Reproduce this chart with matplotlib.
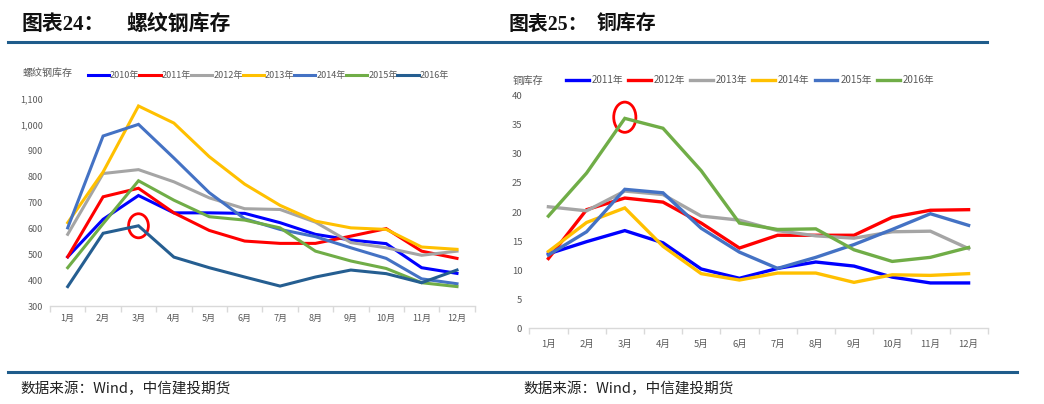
import matplotlib
matplotlib.use('Agg')
import matplotlib.pyplot as plt
from matplotlib.patches import Ellipse
from matplotlib.lines import Line2D
from matplotlib.ticker import FuncFormatter, FixedLocator

plt.rcParams['font.family'] = ['Noto Sans CJK SC', 'DejaVu Sans']

# ---------------- data ----------------
months = ['1月', '2月', '3月', '4月', '5月', '6月', '7月', '8月', '9月', '10月', '11月', '12月']

rebar_years = ['2010年', '2011年', '2012年', '2013年', '2014年', '2015年', '2016年']
rebar_2010 = [490, 635, 727, 660, 660, 658, 622, 577, 555, 541, 448, 426]
rebar_2011 = [490, 722, 755, 660, 592, 551, 542, 542, 570, 599, 512, 484]
rebar_2012 = [577, 812, 827, 780, 718, 676, 673, 624, 545, 525, 496, 512]
rebar_2013 = [622, 818, 1073, 1007, 877, 771, 689, 628, 602, 596, 528, 519]
rebar_2014 = [602, 957, 1002, 872, 738, 637, 596, 568, 525, 484, 405, 386]
rebar_2015 = [448, 618, 784, 709, 645, 632, 602, 512, 474, 445, 390, 375]
rebar_2016 = [375, 581, 610, 489, 448, 412, 377, 412, 439, 425, 390, 439]
rebar_series = [rebar_2010, rebar_2011, rebar_2012, rebar_2013, rebar_2014, rebar_2015, rebar_2016]
rebar_colors = ['#0000FF', '#FF0000', '#A5A5A5', '#FFC000', '#4472C4', '#70AD47', '#255E91']
rebar_yticks = [300, 400, 500, 600, 700, 800, 900, 1000, 1100]

copper_years = ['2011年', '2012年', '2013年', '2014年', '2015年', '2016年']
copper_2011 = [12.8, 14.9, 16.8, 14.7, 10.2, 8.6, 10.3, 11.4, 10.7, 8.8, 7.8, 7.8]
copper_2012 = [12.0, 20.4, 22.4, 21.7, 18.1, 13.8, 16.0, 16.0, 16.0, 19.1, 20.3, 20.4]
copper_2013 = [20.9, 20.2, 23.6, 23.0, 19.3, 18.6, 16.8, 15.9, 15.5, 16.6, 16.7, 13.7]
copper_2014 = [13.2, 18.2, 20.7, 14.1, 9.4, 8.3, 9.5, 9.5, 7.9, 9.2, 9.1, 9.4]
copper_2015 = [12.6, 16.6, 23.9, 23.3, 17.2, 13.1, 10.3, 12.2, 14.4, 17.0, 19.7, 17.7]
copper_2016 = [19.3, 26.7, 36.1, 34.4, 27.1, 18.1, 17.0, 17.1, 13.5, 11.5, 12.2, 13.9]
copper_series = [copper_2011, copper_2012, copper_2013, copper_2014, copper_2015, copper_2016]
copper_colors = ['#0000FF', '#FF0000', '#A5A5A5', '#FFC000', '#4472C4', '#70AD47']
copper_yticks = [0, 5, 10, 15, 20, 25, 30, 35, 40]

# ---------------- layout ----------------
W, H = 1044, 404
fig = plt.figure(figsize=(W / 100, H / 100), dpi=100)
fig.patch.set_facecolor('white')

def fx(px):
    return px / W

def fy(py):
    return 1 - py / H

GRAY = '#595959'
RULE = '#1F5C8B'
title_family = ['Liberation Serif', 'Noto Sans CJK SC']

# Titles
fig.text(fx(21.7), fy(24.5), '图表24：', fontsize=15, fontweight='bold', family=title_family,
         va='center', ha='left', color='#111111')
fig.text(fx(126.7), fy(24.5), '螺纹钢库存', fontsize=15, fontweight='bold', family=title_family,
         va='center', ha='left', color='#111111')
fig.text(fx(508.3), fy(24.5), '图表25：', fontsize=14.3, fontweight='bold', family=title_family,
         va='center', ha='left', color='#111111')
fig.text(fx(596.7), fy(24.5), '铜库存', fontsize=14.3, fontweight='bold', family=title_family,
         va='center', ha='left', color='#111111')

# Rules
fig.add_artist(Line2D([fx(8), fx(987)], [fy(41.7), fy(41.7)], color=RULE, lw=2.2,
                      transform=fig.transFigure))
fig.add_artist(Line2D([fx(8), fx(1017)], [fy(371.7), fy(371.7)], color=RULE, lw=2.2,
                      transform=fig.transFigure))

# Sources
for x0 in (20.7, 523):
    fig.text(fx(x0), fy(388.5), '数据来源：Wind，中信建投期货', fontsize=10.5, style='italic',
             family=['Noto Sans CJK SC', 'DejaVu Sans'], va='center', ha='left', color='#222222')


def style_axes(ax, yticks, ylim, fmt, xpad, tickfs):
    x = list(range(len(months)))
    ax.set_xlim(-0.5, len(months) - 0.5)
    ax.set_ylim(*ylim)
    ax.set_xticks(x)
    ax.set_xticklabels(months, fontsize=tickfs, color=GRAY)
    ax.xaxis.set_minor_locator(FixedLocator([i - 0.5 for i in range(len(months) + 1)]))
    ax.tick_params(axis='x', which='major', length=0, pad=xpad)
    ax.tick_params(axis='x', which='minor', length=4, color='#D9D9D9', width=1)
    ax.set_yticks(yticks)
    ax.yaxis.set_major_formatter(FuncFormatter(fmt))
    ax.tick_params(axis='y', length=0, pad=5, labelsize=tickfs, labelcolor=GRAY)
    for s in ('top', 'right', 'left'):
        ax.spines[s].set_visible(False)
    ax.spines['bottom'].set_color('#D9D9D9')
    ax.spines['bottom'].set_linewidth(1)
    ax.set_facecolor('none')


# ---------------- left chart ----------------
axL = fig.add_axes([fx(50), fy(306), (474.7 - 50) / W, (306 - 99) / H])
xs = list(range(len(months)))
for name, vals, c in zip(rebar_years, rebar_series, rebar_colors):
    axL.plot(xs, vals, color=c, lw=2.2, label=name, solid_joinstyle='miter')
style_axes(axL, rebar_yticks, (300, 1100), lambda v, p: f'{int(v):,}', 5.5, 6.5)
axL.add_patch(Ellipse((2, rebar_2016[2]), width=0.56, height=93, fill=False,
                      edgecolor='#FF0000', lw=2))
fig.text(fx(23), fy(73), '螺纹钢库存', fontsize=7.2, color=GRAY, va='center', ha='left')
axL.legend(loc='center left', bbox_to_anchor=(fx(87.7), fy(75.7)), bbox_transform=fig.transFigure,
           ncol=7, frameon=False, fontsize=6.5, handlelength=2.35, handletextpad=0.12,
           columnspacing=0.0, borderpad=0, borderaxespad=0, labelcolor=GRAY)

# ---------------- right chart ----------------
axR = fig.add_axes([fx(529.3), fy(328.3), (987.7 - 529.3) / W, (328.3 - 95.7) / H])
for name, vals, c in zip(copper_years, copper_series, copper_colors):
    axR.plot(xs, vals, color=c, lw=2.4, label=name, solid_joinstyle='miter')
style_axes(axR, copper_yticks, (0, 40), lambda v, p: f'{int(v)}', 8, 6.8)
axR.add_patch(Ellipse((2, copper_2016[2] + 0.2), width=0.58, height=5.2, fill=False,
                      edgecolor='#FF0000', lw=2))
fig.text(fx(513), fy(81), '铜库存', fontsize=7.4, color=GRAY, va='center', ha='left')
axR.legend(loc='center left', bbox_to_anchor=(fx(565.7), fy(80)), bbox_transform=fig.transFigure,
           ncol=6, frameon=False, fontsize=7, handlelength=2.35, handletextpad=0.3,
           columnspacing=0.5, borderpad=0, borderaxespad=0, labelcolor=GRAY)

fig.savefig('out.png', dpi=100, facecolor='white')
